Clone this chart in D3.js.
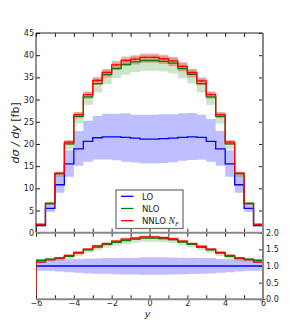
<!DOCTYPE html>
<html><head><meta charset="utf-8">
<script src="https://cdn.jsdelivr.net/npm/d3@7"></script>
<style>body{margin:0;background:#fff}svg{display:block}text{font-family:"DejaVu Sans",sans-serif;fill:#222}</style>
</head><body>
<script>
// ---------------- data ----------------
const binEdges = [-6,-5.5,-5,-4.5,-4,-3.5,-3,-2.5,-2,-1.5,-1,-0.5,0,0.5,1,1.5,2,2.5,3,3.5,4,4.5,5,5.5,6];
const LO      = [1.62,5.5,10.8,15.5,18.9,20.6,21.4,21.6,21.6,21.5,21.3,21.1,21.1,21.2,21.3,21.5,21.6,21.5,20.6,18.9,15.5,10.8,5.5,1.62];
const LO_up   = [1.9,6.5,13.1,18.6,22.9,25.2,26.3,26.8,26.8,26.9,26.6,26.6,26.6,26.7,26.7,26.9,27.0,26.6,25.6,22.9,18.6,13.1,6.5,1.9];
const LO_down = [1.39,4.7,9.0,12.6,15.1,16.0,16.5,16.5,16.3,16.0,15.8,15.6,15.6,15.7,15.9,16.2,16.4,16.5,16.0,15.1,12.6,9.0,4.7,1.39];
const NLO      = [1.9,6.65,13.3,20.0,26.2,30.6,33.6,35.6,37.0,37.9,38.5,38.8,38.8,38.6,38.2,37.0,35.7,33.6,30.6,26.2,20.0,13.3,6.65,1.9];
const NLO_up   = [1.97,6.9,13.8,20.7,27.1,31.7,34.8,36.8,38.3,39.2,39.8,40.1,40.1,39.9,39.5,38.3,36.9,34.8,31.7,27.1,20.7,13.8,6.9,1.97];
const NLO_down = [1.79,6.25,12.5,18.8,24.6,28.8,31.6,33.5,34.8,35.6,36.2,36.5,36.5,36.3,35.9,34.8,33.6,31.6,28.8,24.6,18.8,12.5,6.25,1.79];
const NNLO      = [1.81,6.55,13.4,20.4,26.6,31.1,34.3,36.1,37.8,38.8,39.1,39.5,39.5,39.2,38.7,37.5,36.1,34.2,31.1,26.6,20.4,13.4,6.55,1.81];
const NNLO_up   = [1.85,6.7,13.7,20.9,27.2,31.8,35.1,36.9,38.7,39.7,40.0,40.4,40.4,40.1,39.6,38.4,36.9,35.0,31.8,27.2,20.9,13.7,6.7,1.85];
const NNLO_down = [1.76,6.35,13.0,19.8,25.8,30.2,33.3,35.0,36.7,37.6,37.9,38.3,38.3,38.0,37.5,36.4,35.0,33.2,30.2,25.8,19.8,13.0,6.35,1.76];
const NNLO_err  = [0.05,0.1,0.15,0.2,0.2,0.25,0.25,0.25,0.25,0.25,0.25,0.25,0.25,0.25,0.25,0.25,0.25,0.25,0.25,0.2,0.2,0.15,0.1,0.05];
const mainTicks = [0,5,10,15,20,25,30,35,40,45];
const ratioTicks = [0,0.5,1,1.5,2];
const xTicks = [-6,-5,-4,-3,-2,-1,0,1,2,3,4,5,6];
const xLabelTicks = [-6,-4,-2,0,2,4,6];
const legendLabels = ["LO","NLO","NNLO"];

// ---------------- layout ----------------
const W = 292, H = 333;
const x0 = 36, x1 = 263;
const mainTop = 33, mainBot = 232.7, ratTop = 232.7, ratBot = 299.3;
const colors = {LO:"#0000ff", NLO:"#008000", NNLO:"#ff0000"};

const svg = d3.select("body").append("svg").attr("width", W).attr("height", H);
const x = d3.scaleLinear().domain([-6,6]).range([x0,x1]);
const yM = d3.scaleLinear().domain([0,45]).range([mainBot, mainTop]);
const yR = d3.scaleLinear().domain([0,2]).range([ratBot, ratTop]);

const defs = svg.append("defs");
defs.append("clipPath").attr("id","cm").append("rect").attr("x",x0).attr("y",mainTop).attr("width",x1-x0).attr("height",mainBot-mainTop);
defs.append("clipPath").attr("id","cr").append("rect").attr("x",x0).attr("y",ratTop).attr("width",x1-x0).attr("height",ratBot-ratTop);

function bandData(lo, hi) {
  const d = lo.map((v,i)=>({e:binEdges[i], lo:v, hi:hi[i]}));
  d.push({e:binEdges[binEdges.length-1], lo:lo[lo.length-1], hi:hi[hi.length-1]});
  return d;
}
function drawPanel(g, y, s) {
  const area = d3.area().x(d=>x(d.e)).y0(d=>y(d.lo)).y1(d=>y(d.hi)).curve(d3.curveStepAfter);
  g.append("path").datum(bandData(s.LO_down, s.LO_up)).attr("d", area).attr("fill", colors.LO).attr("fill-opacity",0.25);
  g.append("path").datum(bandData(s.NLO_down, s.NLO_up)).attr("d", area).attr("fill", colors.NLO).attr("fill-opacity",0.2);
  g.append("path").datum(bandData(s.NNLO_down, s.NNLO_up)).attr("d", area).attr("fill", colors.NNLO).attr("fill-opacity",0.3);
  const line = d3.line().x(d=>x(d.e)).y(d=>y(d.v));
  const stepLine = (data)=>{
    const pts = [];
    pts.push({e:binEdges[0], v:0});
    data.forEach((val,i)=>{ pts.push({e:binEdges[i], v:val}); pts.push({e:binEdges[i+1], v:val}); });
    pts.push({e:binEdges[binEdges.length-1], v:0});
    return pts;
  };
  ["LO","NLO","NNLO"].forEach(k=>{
    g.append("path").datum(stepLine(s[k])).attr("d", line).attr("fill","none")
      .attr("stroke", colors[k]).attr("stroke-width",1.3);
  });
  if (s.NNLO_err) {
    g.selectAll("line.err").data(s.NNLO).enter().append("line")
      .attr("x1",(d,i)=>x((binEdges[i]+binEdges[i+1])/2)).attr("x2",(d,i)=>x((binEdges[i]+binEdges[i+1])/2))
      .attr("y1",(d,i)=>y(d - s.NNLO_err[i])).attr("y2",(d,i)=>y(d + s.NNLO_err[i]))
      .attr("stroke", colors.NNLO).attr("stroke-width",1);
  }
}

const gMain = svg.append("g").attr("clip-path","url(#cm)");
drawPanel(gMain, yM, {LO, LO_up, LO_down, NLO, NLO_up, NLO_down, NNLO, NNLO_up, NNLO_down, NNLO_err});

const rat = (arr) => arr.map((v,i)=>v/LO[i]);
const gRat = svg.append("g").attr("clip-path","url(#cr)");
drawPanel(gRat, yR, {LO:rat(LO), LO_up:rat(LO_up), LO_down:rat(LO_down), NLO:rat(NLO), NLO_up:rat(NLO_up), NLO_down:rat(NLO_down), NNLO:rat(NNLO), NNLO_up:rat(NNLO_up), NNLO_down:rat(NNLO_down)});

// ---------------- axes ----------------
function styleAxis(sel){ sel.select(".domain").remove(); sel.selectAll("line").attr("stroke","#222"); sel.selectAll("text").attr("font-size",8).attr("fill","#222").attr("font-family","DejaVu Sans"); }
svg.append("g").attr("transform",`translate(${x0},0)`).call(d3.axisLeft(yM).tickValues(mainTicks).tickSize(-4).tickPadding(2).tickFormat(d3.format("d"))).call(styleAxis);
svg.append("g").attr("transform",`translate(${x1},0)`).call(d3.axisRight(yM).tickValues(mainTicks).tickSize(-4).tickFormat("")).call(styleAxis);
svg.append("g").attr("transform",`translate(0,${mainTop})`).call(d3.axisTop(x).tickValues(xTicks).tickSize(-4).tickFormat("")).call(styleAxis);
svg.append("g").attr("transform",`translate(0,${mainBot})`).call(d3.axisBottom(x).tickValues(xTicks).tickSize(-4).tickFormat("")).call(styleAxis);
svg.append("g").attr("transform",`translate(0,${ratTop})`).call(d3.axisTop(x).tickValues(xTicks).tickSize(-4).tickFormat("")).call(styleAxis);
svg.append("g").attr("transform",`translate(0,${ratBot})`).call(d3.axisBottom(x).tickValues(xTicks).tickSize(-4).tickPadding(1)
  .tickFormat(d=>xLabelTicks.includes(d)? d3.format("d")(d) : "")).call(styleAxis);
svg.append("g").attr("transform",`translate(${x1},0)`).call(d3.axisRight(yR).tickValues(ratioTicks).tickSize(-4).tickPadding(3).tickFormat(d3.format(".1f"))).call(styleAxis);

// spines
svg.append("line").attr("x1",x0).attr("x2",x0).attr("y1",mainTop).attr("y2",mainBot).attr("stroke","#222").attr("stroke-width",1);
svg.append("line").attr("x1",x0).attr("x2",x1).attr("y1",mainTop).attr("y2",mainTop).attr("stroke","#222").attr("stroke-width",1);
svg.append("line").attr("x1",x1).attr("x2",x1).attr("y1",mainTop).attr("y2",ratBot).attr("stroke","#888").attr("stroke-width",2);
svg.append("line").attr("x1",x0).attr("x2",x1).attr("y1",mainBot).attr("y2",mainBot).attr("stroke","#888").attr("stroke-width",2);
svg.append("line").attr("x1",x0).attr("x2",x1).attr("y1",ratBot).attr("y2",ratBot).attr("stroke","#888").attr("stroke-width",2);

// axis labels
const yl = svg.append("text").attr("transform",`translate(19,${(mainTop+mainBot)/2}) rotate(-90)`)
  .attr("text-anchor","middle").attr("font-family","Liberation Serif").attr("font-size",11).attr("fill","#222");
yl.append("tspan").attr("font-style","italic").text("dσ / dy");
yl.append("tspan").text(" [fb]");
svg.append("text").attr("x",x(0)-2).attr("y",316.5).attr("text-anchor","middle").attr("font-family","Liberation Serif")
  .attr("font-style","italic").attr("font-size",9.5).attr("fill","#222").text("y");

// legend
const lg = svg.append("g");
lg.append("rect").attr("x",116).attr("y",190).attr("width",67).attr("height",38.5).attr("fill","#fff").attr("stroke","#777").attr("stroke-width",1.3);
const legY = [196.3, 208.5, 220.7];
legendLabels.forEach((lab,i)=>{
  const k = ["LO","NLO","NNLO"][i];
  lg.append("line").attr("x1",121).attr("x2",133.5).attr("y1",legY[i]).attr("y2",legY[i]).attr("stroke",colors[k]).attr("stroke-width",1.3);
  const t = lg.append("text").attr("x",142).attr("y",legY[i]+3.2).attr("font-size",8.5).attr("fill","#222").text(lab);
  if (k==="NNLO") {
    t.append("tspan").text(" ");
    t.append("tspan").attr("font-family","Liberation Serif").attr("font-style","italic").attr("font-size",9.5).text("N");
    t.append("tspan").attr("font-family","Liberation Serif").attr("font-style","italic").attr("font-size",6.5).attr("dy",2).text("F");
  }
});
</script>
</body></html>
